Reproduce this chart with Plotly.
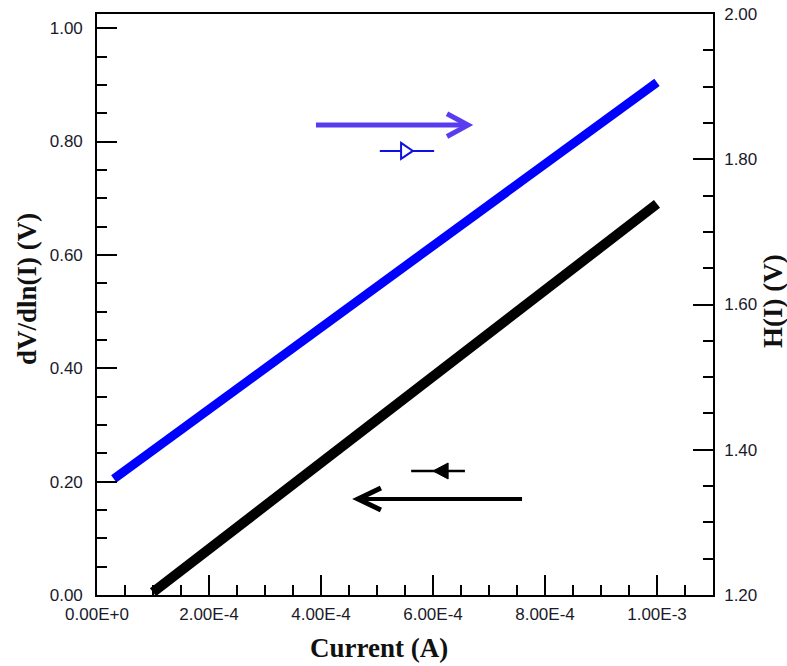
import plotly.graph_objects as go

# ---- data ----
current_black = [1.0e-4, 6.0e-4, 1.0e-3]
dv_dlni = [0.005, 0.385, 0.690]          # left axis, dV/dln(I) (V)

current_blue = [3.0e-5, 6.0e-4, 1.0e-3]
h_of_i = [1.360, 1.682, 1.906]           # right axis, H(I) (V)

x_ticks = [0, 2e-4, 4e-4, 6e-4, 8e-4, 1e-3]
x_tick_labels = ["0.00E+0", "2.00E-4", "4.00E-4", "6.00E-4", "8.00E-4", "1.00E-3"]
y_ticks = [0, 0.2, 0.4, 0.6, 0.8, 1.0]
y_tick_labels = ["0.00", "0.20", "0.40", "0.60", "0.80", "1.00"]
y2_ticks = [1.2, 1.4, 1.6, 1.8, 2.0]
y2_tick_labels = ["1.20", "1.40", "1.60", "1.80", "2.00"]

tick_font = dict(family="Liberation Sans, Arial", size=17, color="#1a1a2a")
title_font = dict(family="Liberation Serif, Times New Roman", size=27, color="#111")

fig = go.Figure()
fig.add_trace(go.Scatter(x=current_black, y=dv_dlni, mode="lines",
                         line=dict(color="black", width=10), yaxis="y",
                         showlegend=False))
fig.add_trace(go.Scatter(x=current_blue, y=h_of_i, mode="lines",
                         line=dict(color="#0000ff", width=9), yaxis="y2",
                         showlegend=False))

common = dict(showline=True, linecolor="black", linewidth=1.6,
              ticks="inside", ticklen=20, tickwidth=1.5, tickcolor="black",
              showgrid=False, zeroline=False, tickfont=tick_font,
              automargin=False)

fig.update_layout(
    width=787, height=666,
    margin=dict(l=97, r=74, t=14, b=71),
    plot_bgcolor="white", paper_bgcolor="white",
    xaxis=dict(range=[0, 1.1e-3], tickvals=x_ticks, ticktext=x_tick_labels,
               mirror=True, minor=dict(ticks="inside", ticklen=10, dtick=5e-5,
                                       tick0=0, tickwidth=1.5, tickcolor="black"),
               ticklabelstandoff=3,
               **common),
    yaxis=dict(range=[0, 1.025], tickvals=y_ticks, ticktext=y_tick_labels,
               minor=dict(ticks="inside", ticklen=10, dtick=0.05, tick0=0,
                          tickwidth=1.5, tickcolor="black"),
               ticklabelstandoff=9,
               **common),
    yaxis2=dict(range=[1.2, 2.0], tickvals=y2_ticks, ticktext=y2_tick_labels,
                overlaying="y", side="right",
                minor=dict(ticks="inside", ticklen=10, dtick=0.05, tick0=1.2,
                           tickwidth=1.5, tickcolor="black"),
                ticklabelstandoff=6,
                **common),
)

# axis titles as annotations
fig.add_annotation(text="<b>Current (A)</b>", xref="paper", yref="paper",
                   x=(379 - 97) / 616, y=-(648 - 595) / 581, showarrow=False,
                   font=title_font, xanchor="center", yanchor="middle")
fig.add_annotation(text="<b>dV/dln(I) (V)</b>", xref="paper", yref="paper",
                   x=-(97 - 27) / 616, y=(595 - 289) / 581, showarrow=False,
                   font=title_font, textangle=-90, xanchor="center", yanchor="middle")
fig.add_annotation(text="<b>H(I) (V)</b>", xref="paper", yref="paper",
                   x=1 + (773 - 713) / 616, y=(595 - 301) / 581, showarrow=False,
                   font=title_font, textangle=-90, xanchor="center", yanchor="middle")

# arrows and keys (data coordinates on x / left y)
purple = "#5a3cf0"
fig.add_shape(type="line", xref="x", yref="y", x0=3.91e-4, x1=6.55e-4, y0=0.829, y1=0.829,
              line=dict(color=purple, width=5))
fig.add_shape(type="path", xref="x", yref="y",
              path="M 6.25e-4 0.849 L 6.625e-4 0.829 L 6.25e-4 0.809",
              line=dict(color=purple, width=5))

fig.add_shape(type="line", xref="x", yref="y", x0=7.59e-4, x1=4.75e-4, y0=0.1694, y1=0.1694,
              line=dict(color="black", width=4))
fig.add_shape(type="path", xref="x", yref="y",
              path="M 5.07e-4 0.1888 L 4.66e-4 0.1694 L 5.07e-4 0.150",
              line=dict(color="black", width=5))

# blue key
fig.add_shape(type="line", xref="x", yref="y", x0=5.05e-4, x1=6.02e-4, y0=0.7835, y1=0.7835,
              line=dict(color="#1010e0", width=2))
fig.add_shape(type="path", xref="x", yref="y",
              path="M 5.43e-4 0.7976 L 5.64e-4 0.7835 L 5.43e-4 0.7694 Z",
              line=dict(color="#1010e0", width=2), fillcolor="white")
# black key
fig.add_shape(type="line", xref="x", yref="y", x0=5.61e-4, x1=6.57e-4, y0=0.2188, y1=0.2188,
              line=dict(color="black", width=2.5))
fig.add_shape(type="path", xref="x", yref="y",
              path="M 6.27e-4 0.2329 L 6.0e-4 0.2188 L 6.27e-4 0.2047 Z",
              line=dict(color="black", width=1), fillcolor="black")

fig.write_html("out.html")
